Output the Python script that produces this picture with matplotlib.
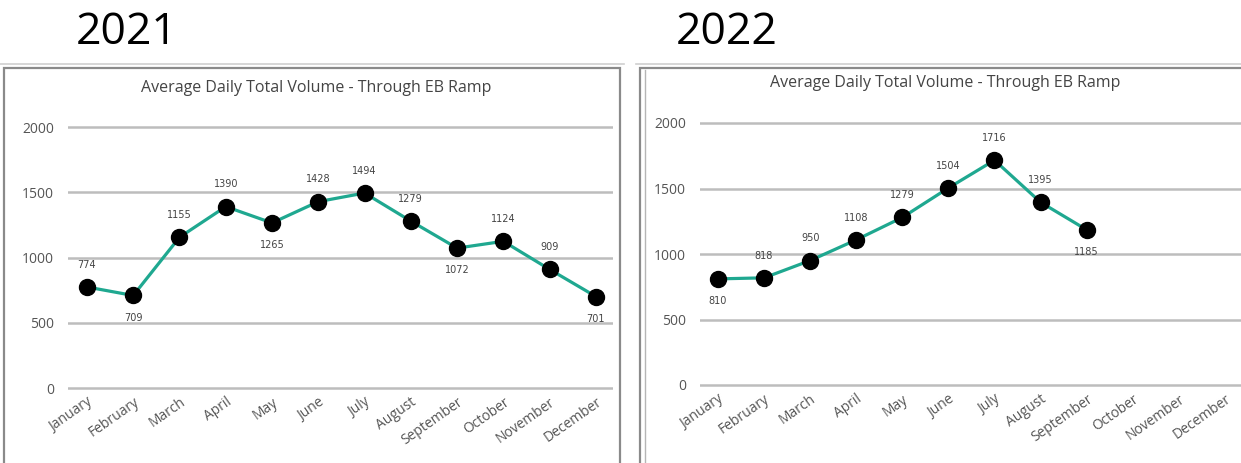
import matplotlib
matplotlib.use("Agg")
import matplotlib.pyplot as plt
from matplotlib.patches import Rectangle
from matplotlib.lines import Line2D

MONTHS = ["January", "February", "March", "April", "May", "June", "July",
          "August", "September", "October", "November", "December"]

VOL_2021 = [774, 709, 1155, 1390, 1265, 1428, 1494, 1279, 1072, 1124, 909, 701]
VOL_2022 = [810, 818, 950, 1108, 1279, 1504, 1716, 1395, 1185]

# which data labels sit under their point instead of above
BELOW_2021 = [1, 4, 8, 11]
BELOW_2022 = [0, 8]

YTICKS = [0, 500, 1000, 1500, 2000]
CHART_TITLE = "Average Daily Total Volume - Through EB Ramp"

W, H = 1241, 463
LINE_COLOR = "#1fa890"
GRID_COLOR = "#bdbdbd"
TEXT_COLOR = "#555555"
YPAD = 30  # a little headroom so the 0 and 2000 gridlines aren't clipped


def px_x(x):
    return x / W


def px_y(y):
    return 1 - y / H


def draw_panel(fig, x_left, x_right, y_zero, y_top, xlim, values, below):
    # widen the axes box by the y padding so data units stay put
    pad_px = YPAD * (y_zero - y_top) / 2000
    rect = [px_x(x_left), px_y(y_zero + pad_px), px_x(x_right - x_left),
            (y_zero - y_top + 2 * pad_px) / H]
    ax = fig.add_axes(rect)
    xs = list(range(len(values)))
    ax.plot(xs, values, color=LINE_COLOR, lw=2.3, zorder=3, clip_on=False)
    ax.plot(xs, values, "o", color="black", ms=11.5, zorder=4, clip_on=False)

    for i, v in enumerate(values):
        dy = -16 if i in below else 16
        ax.annotate(str(v), (i, v), xytext=(0, dy), textcoords="offset points",
                    ha="center", va="center", fontsize=7, color="#444444",
                    fontfamily="DejaVu Sans")

    ax.set_xlim(*xlim)
    ax.set_ylim(-YPAD, 2000 + YPAD)
    ax.set_yticks(YTICKS)
    ax.set_yticklabels([str(t) for t in YTICKS], fontsize=10, color=TEXT_COLOR,
                       fontfamily="Open Sans")
    ax.set_xticks(range(len(MONTHS)))
    ax.set_xticklabels(MONTHS, rotation=35, ha="right", rotation_mode="anchor",
                       fontsize=10, color=TEXT_COLOR, fontfamily="Open Sans")
    ax.tick_params(length=0, axis="y", pad=10)
    ax.tick_params(length=0, axis="x", pad=2)
    ax.grid(axis="y", color=GRID_COLOR, lw=1.8)
    ax.set_axisbelow(True)
    for s in ax.spines.values():
        s.set_visible(False)
    ax.patch.set_alpha(0)
    return ax


fig = plt.figure(figsize=(W / 100, H / 100), dpi=100)
fig.patch.set_facecolor("white")

# panel frames
for x0, x1 in [(4, 620), (640, 1250)]:
    fig.add_artist(Line2D([px_x(x0 - 4), px_x(x1 + 4)], [px_y(64), px_y(64)],
                          color="#cfcfcf", lw=1.2))
    fig.add_artist(Rectangle((px_x(x0), px_y(480)), px_x(x1 - x0), (480 - 68) / H,
                             fill=False, ec="#8a8a8a", lw=1.6))
fig.add_artist(Line2D([px_x(645), px_x(645)], [px_y(70), px_y(480)],
                      color="#b5b5b5", lw=1.0))

# year headings
fig.text(px_x(127), px_y(33), "2021", fontsize=32, fontfamily="Open Sans",
         ha="center", va="center", color="black")
fig.text(px_x(727), px_y(33), "2022", fontsize=32, fontfamily="Open Sans",
         ha="center", va="center", color="black")

# chart titles
fig.text(px_x(316), px_y(88), CHART_TITLE, fontsize=11.5, fontfamily="Open Sans",
         ha="center", va="center", color="#444444")
fig.text(px_x(945), px_y(83), CHART_TITLE, fontsize=11.5, fontfamily="Open Sans",
         ha="center", va="center", color="#444444")

draw_panel(fig, 68, 613, 388, 127, (-0.41, 11.37), VOL_2021, BELOW_2021)
draw_panel(fig, 700, 1241, 385, 123, (-0.39, 11.35), VOL_2022, BELOW_2022)

fig.savefig("out.png", dpi=100)
